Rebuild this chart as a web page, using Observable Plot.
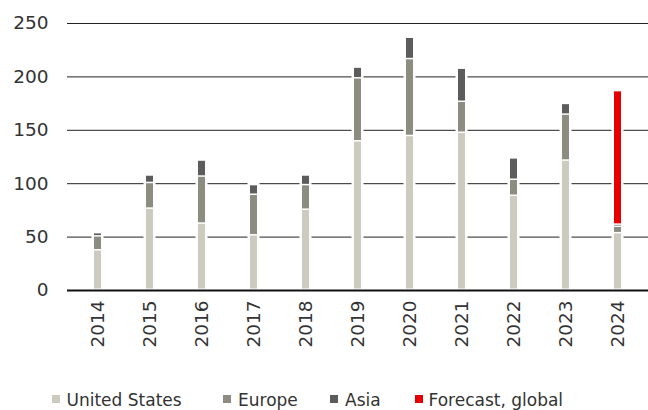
<!DOCTYPE html>
<html>
<head>
<meta charset="utf-8">
<script src="https://cdn.jsdelivr.net/npm/d3@7"></script>
<script src="https://cdn.jsdelivr.net/npm/@observablehq/plot@0.6"></script>
<style>
  html, body { margin: 0; padding: 0; background: #fff; }
  #wrap { position: relative; width: 648px; height: 410px; font-family: "DejaVu Sans", sans-serif; color: #333; }
  #chart svg { display: block; }
  .legend-item { position: absolute; top: 390px; height: 20px; line-height: 20px; font-size: 17px; white-space: nowrap; }
  .legend-item .swatch { position: absolute; left: 0; top: 5px; width: 8px; height: 8px; }
  .legend-item .label { position: absolute; white-space: nowrap; }
</style>
</head>
<body>
<div id="wrap">
  <div id="chart"></div>
  <div id="legend"></div>
</div>
<script>
// Annual volumes by region, 2014–2024 (2024 includes the global forecast)
const years = ["2014", "2015", "2016", "2017", "2018", "2019", "2020", "2021", "2022", "2023", "2024"];
const unitedStates = [37, 76, 62, 51, 75, 139, 144, 147, 88, 121, 53];
const europe = [13, 24, 44, 38, 23, 59, 72, 29, 15, 43, 6];
const asia = [3, 7, 15, 9, 9, 10, 20, 31, 20, 10, 2];
const forecastGlobal = [0, 0, 0, 0, 0, 0, 0, 0, 0, 0, 125];

const seriesNames = ["United States", "Europe", "Asia", "Forecast, global"];
const seriesColors = ["#cdcbbf", "#8c8c80", "#5b5c5b", "#e60000"];
const yTicks = [0, 50, 100, 150, 200, 250];

const seriesValues = [unitedStates, europe, asia, forecastGlobal];

// Long-format rows, stacked in series order
const rows = [];
years.forEach((year, i) => {
  seriesNames.forEach((name, s) => {
    rows.push({year, series: name, value: seriesValues[s][i]});
  });
});

const totals = years.map((year, i) => ({
  year,
  total: seriesValues.reduce((sum, arr) => sum + arr[i], 0)
}));

const chart = Plot.plot({
  width: 648,
  height: 360,
  marginTop: 23,
  marginBottom: 70,
  marginLeft: 67,
  marginRight: 0,
  style: {fontFamily: "DejaVu Sans, sans-serif", color: "#333", background: "#fff"},
  x: {domain: years, paddingInner: 0.87, paddingOuter: 0.435},
  y: {domain: [0, 250]},
  color: {domain: seriesNames, range: seriesColors},
  marks: [
    Plot.ruleY(yTicks.filter(d => d > 0), {stroke: "#222", strokeWidth: 1}),
    // white halo behind each column so gridlines break around it
    Plot.barY(totals, {x: "year", y: "total", fill: "white", stroke: "white", strokeWidth: 5}),
    Plot.barY(rows, {x: "year", y: "value", fill: "series", insetBottom: 1.5}),
    Plot.ruleY([0], {stroke: "#111", strokeWidth: 2}),
    Plot.axisY({ticks: yTicks, tickSize: 0, tickPadding: 19, fontSize: "18.5px", label: null, fill: "#333"}),
    Plot.axisX({tickRotate: -90, tickSize: 0, tickPadding: 10, fontSize: "18.5px", label: null, fill: "#333"})
  ]
});
document.getElementById("chart").appendChild(chart);

// Legend below the chart
const legendPos = [51.5, 223, 330, 415];
const legend = document.getElementById("legend");
seriesNames.forEach((name, i) => {
  const item = document.createElement("div");
  item.className = "legend-item";
  item.style.left = legendPos[i] + "px";
  const sw = document.createElement("span");
  sw.className = "swatch";
  sw.style.background = seriesColors[i];
  const lab = document.createElement("span");
  lab.className = "label";
  lab.style.left = (i === 3 ? 13.5 : 15) + "px";
  lab.textContent = name;
  item.appendChild(sw);
  item.appendChild(lab);
  legend.appendChild(item);
});
</script>
</body>
</html>
